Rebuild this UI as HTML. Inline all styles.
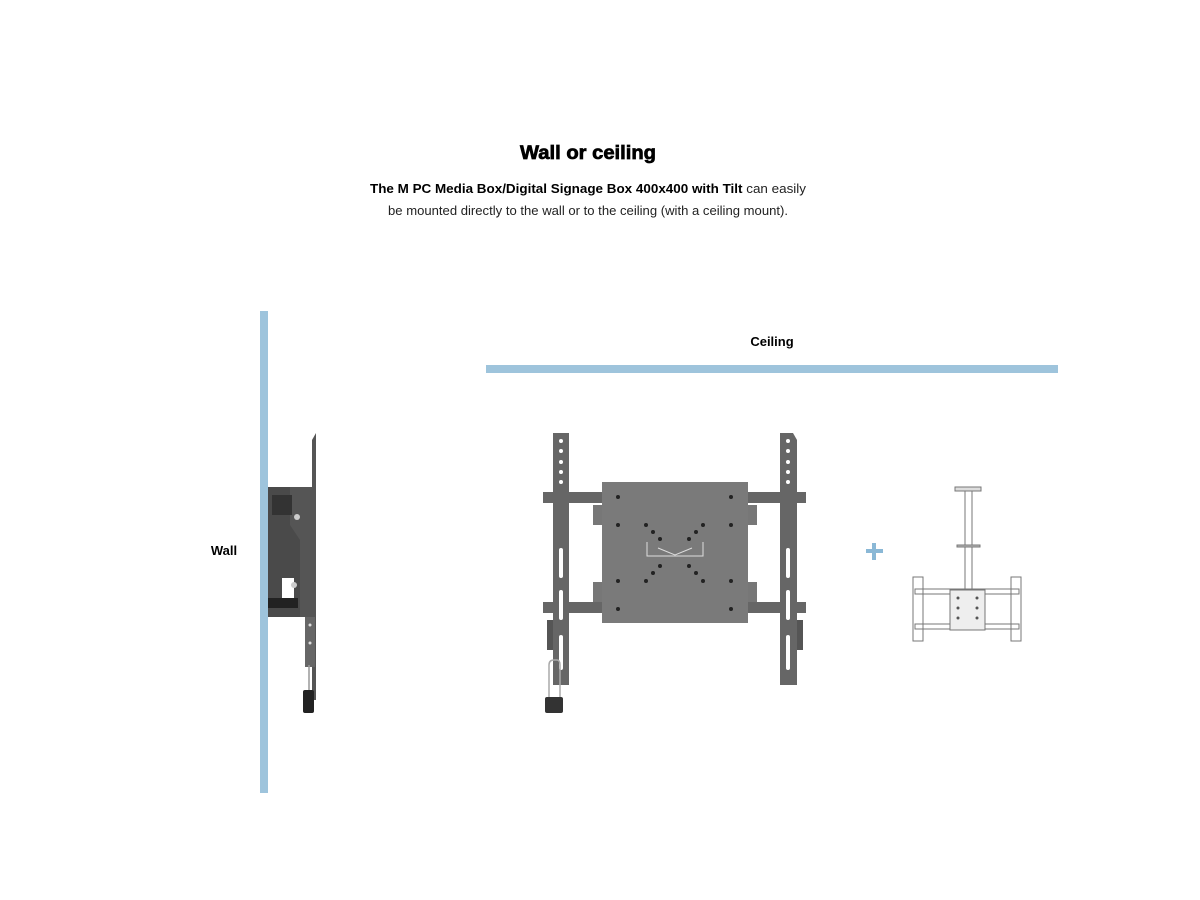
<!DOCTYPE html>
<html><head><meta charset="utf-8"><style>
html,body{margin:0;padding:0;background:#fff;width:1200px;height:900px;overflow:hidden}
</style></head><body>
<svg width="1200" height="900" viewBox="0 0 1200 900" xmlns="http://www.w3.org/2000/svg" font-family="Liberation Sans, Arial, sans-serif">
<rect width="1200" height="900" fill="#fff"/>
<text x="588" y="159" text-anchor="middle" font-size="19" font-weight="bold" fill="#000" stroke="#000" stroke-width="0.7" textLength="136" lengthAdjust="spacingAndGlyphs">Wall or ceiling</text>
<text x="370" y="193" font-size="13" fill="#222" textLength="436" lengthAdjust="spacingAndGlyphs"><tspan font-weight="bold" fill="#000">The M PC Media Box/Digital Signage Box 400x400 with Tilt</tspan> can easily</text>
<text x="588" y="215" text-anchor="middle" font-size="13" fill="#222" textLength="400" lengthAdjust="spacingAndGlyphs">be mounted directly to the wall or to the ceiling (with a ceiling mount).</text>
<text x="772" y="346" text-anchor="middle" font-size="13" font-weight="bold" fill="#000">Ceiling</text>
<text x="224" y="555" text-anchor="middle" font-size="13" font-weight="bold" fill="#000">Wall</text>
<rect x="260" y="311" width="8" height="482" fill="#9ec4dc"/>
<rect x="486" y="365" width="572" height="8" fill="#9ec4dc"/>
<!-- side view -->
<polygon points="312,440 316,433 316,700 312,700" fill="#555"/>
<rect x="268" y="487" width="45" height="130" fill="#4a4a4a"/>
<polygon points="290,487 313,487 313,617 300,617 300,540 290,525" fill="#555"/>
<rect x="272" y="495" width="20" height="20" fill="#333"/>
<rect x="282" y="578" width="12" height="20" fill="#fff"/>
<rect x="268" y="598" width="30" height="10" fill="#222"/>
<circle cx="297" cy="517" r="3" fill="#ccc"/><circle cx="294" cy="585" r="3" fill="#ccc"/>
<rect x="305" y="617" width="10" height="50" fill="#666"/>
<circle cx="310" cy="625" r="1.5" fill="#ddd"/><circle cx="310" cy="643" r="1.5" fill="#ddd"/>
<line x1="309" y1="665" x2="309" y2="690" stroke="#999" stroke-width="1.5"/>
<rect x="303" y="690" width="11" height="23" rx="2" fill="#222"/>
<!-- main mount -->
<rect x="543" y="492" width="263" height="11" fill="#666"/>
<rect x="543" y="602" width="263" height="11" fill="#666"/>
<rect x="593" y="505" width="20" height="20" fill="#777"/><rect x="737" y="505" width="20" height="20" fill="#777"/>
<rect x="593" y="582" width="20" height="20" fill="#777"/><rect x="737" y="582" width="20" height="20" fill="#777"/>
<rect x="547" y="620" width="7" height="30" fill="#555"/><rect x="796" y="620" width="7" height="30" fill="#555"/>
<polygon points="553,433 569,433 569,685 553,685" fill="#666"/>
<polygon points="780,433 793,433 797,440 797,685 780,685" fill="#666"/>
<g fill="#fff">
<circle cx="561" cy="441" r="2"/><circle cx="561" cy="451" r="2"/><circle cx="561" cy="462" r="2"/><circle cx="561" cy="472" r="2"/><circle cx="561" cy="482" r="2"/>
<circle cx="788" cy="441" r="2"/><circle cx="788" cy="451" r="2"/><circle cx="788" cy="462" r="2"/><circle cx="788" cy="472" r="2"/><circle cx="788" cy="482" r="2"/>
<rect x="559" y="548" width="4" height="30" rx="2"/><rect x="559" y="590" width="4" height="30" rx="2"/><rect x="559" y="635" width="4" height="35" rx="2"/>
<rect x="786" y="548" width="4" height="30" rx="2"/><rect x="786" y="590" width="4" height="30" rx="2"/><rect x="786" y="635" width="4" height="35" rx="2"/>
</g>
<rect x="602" y="482" width="146" height="141" fill="#7a7a7a"/>
<g fill="#222">
<circle cx="618" cy="497" r="2"/><circle cx="731" cy="497" r="2"/><circle cx="618" cy="525" r="2"/><circle cx="731" cy="525" r="2"/>
<circle cx="646" cy="525" r="2"/><circle cx="703" cy="525" r="2"/><circle cx="653" cy="532" r="2"/><circle cx="696" cy="532" r="2"/>
<circle cx="660" cy="539" r="2"/><circle cx="689" cy="539" r="2"/>
<circle cx="660" cy="566" r="2"/><circle cx="689" cy="566" r="2"/><circle cx="653" cy="573" r="2"/><circle cx="696" cy="573" r="2"/>
<circle cx="618" cy="581" r="2"/><circle cx="731" cy="581" r="2"/><circle cx="646" cy="581" r="2"/><circle cx="703" cy="581" r="2"/>
<circle cx="618" cy="609" r="2"/><circle cx="731" cy="609" r="2"/>
</g>
<polyline points="647,542 647,556 703,556 703,542" fill="none" stroke="#ddd" stroke-width="1"/>
<polyline points="658,548 675,555 692,548" fill="none" stroke="#ddd" stroke-width="1"/>
<path d="M549,697 L549,665 Q549,660 554,660 L557,660 Q560,660 560,665 L560,697" fill="none" stroke="#aaa" stroke-width="1.5"/>
<rect x="545" y="697" width="18" height="16" rx="2" fill="#333"/>
<!-- plus -->
<rect x="866" y="549" width="17" height="4" fill="#8ab8d6"/>
<rect x="872" y="543" width="4" height="17" fill="#8ab8d6"/>
<!-- ceiling mount -->
<g stroke="#777" stroke-width="1" fill="none">
<rect x="955" y="487" width="26" height="4" fill="#ddd"/>
<rect x="965" y="491" width="7" height="100"/>
<rect x="957" y="545" width="23" height="2" fill="#bbb"/>
<rect x="913" y="577" width="10" height="64"/>
<rect x="1011" y="577" width="10" height="64"/>
<rect x="915" y="589" width="104" height="5"/>
<rect x="915" y="624" width="104" height="5"/>
<rect x="950" y="590" width="35" height="40" fill="#eee"/>
</g>
<g fill="#555"><circle cx="958" cy="598" r="1.5"/><circle cx="977" cy="598" r="1.5"/><circle cx="958" cy="608" r="1.5"/><circle cx="977" cy="608" r="1.5"/><circle cx="958" cy="618" r="1.5"/><circle cx="977" cy="618" r="1.5"/></g>
</svg>
</body></html>
